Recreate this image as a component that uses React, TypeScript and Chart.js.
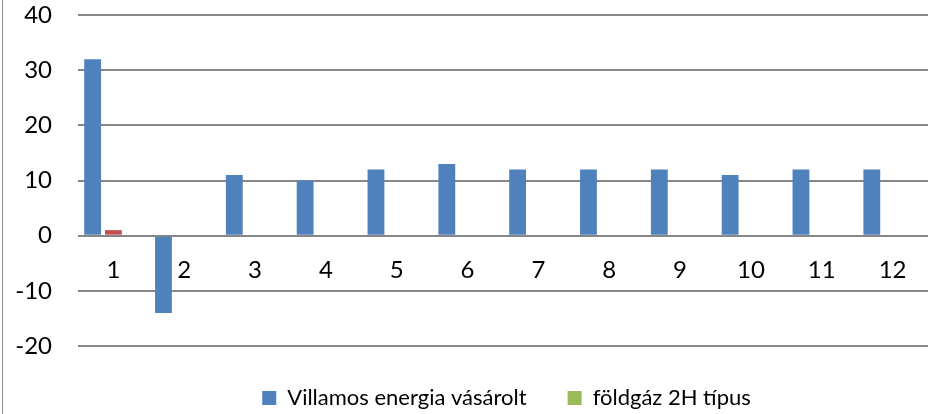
import React, { useEffect, useRef } from "react";
import { Chart, registerables } from "chart.js";

Chart.register(...registerables);

const categories = ["1", "2", "3", "4", "5", "6", "7", "8", "9", "10", "11", "12"];
const villamosEnergia = [32, -14, 11, 10, 12, 13, 12, 12, 12, 11, 12, 12];
const masodikSorozat = [1, 0, 0, 0, 0, 0, 0, 0, 0, 0, 0, 0];
const foldgaz2H = [0, 0, 0, 0, 0, 0, 0, 0, 0, 0, 0, 0];
const seriesNames = ["Villamos energia vásárolt", "", "földgáz 2H típus"];

const FONT = "Lato, 'Open Sans', sans-serif";

const frameLine = {
  id: "frameLine",
  afterDraw(chart: any) {
    const ctx = chart.ctx;
    ctx.save();
    ctx.strokeStyle = "#8c8c8c";
    ctx.lineWidth = 1;
    ctx.beginPath();
    ctx.moveTo(2.5, 0);
    ctx.lineTo(2.5, chart.height);
    ctx.stroke();
    ctx.restore();
  },
};

// Draws the y scale's own tick labels, right-aligned next to the plot area.
const yTickLabels = {
  id: "yTickLabels",
  afterDraw(chart: any) {
    const scale = chart.scales.y;
    const ctx = chart.ctx;
    ctx.save();
    ctx.fillStyle = "#000";
    ctx.font = `24px ${FONT}`;
    ctx.textAlign = "right";
    ctx.textBaseline = "middle";
    for (const t of scale.ticks) {
      ctx.fillText(String(t.value), chart.chartArea.left - 26, scale.getPixelForValue(t.value));
    }
    ctx.restore();
  },
};

export default function App() {
  const ref = useRef<HTMLCanvasElement | null>(null);

  useEffect(() => {
    document.body.style.margin = "0";
    const canvas = ref.current;
    if (!canvas) return;
    const chart = new Chart(canvas, {
      type: "bar",
      data: {
        labels: categories,
        datasets: [
          { label: seriesNames[0], data: villamosEnergia, backgroundColor: "#4F81BD" },
          { label: seriesNames[1], data: masodikSorozat, backgroundColor: "#C0504D" },
          { label: seriesNames[2], data: foldgaz2H, backgroundColor: "#9BBB59" },
        ],
      },
      options: {
        animation: false,
        responsive: false,
        devicePixelRatio: 1,
        datasets: {
          bar: { categoryPercentage: 0.88, barPercentage: 0.81 },
        },
        layout: { padding: { left: 78, right: -7, top: 15, bottom: -5 } },
        plugins: {
          tooltip: { enabled: false },
          legend: {
            position: "bottom",
            labels: {
              filter: (item: any) => item.text !== "",
              boxWidth: 14,
              boxHeight: 14,
              padding: 41,
              color: "#000",
              font: { family: FONT, size: 22 },
            },
          },
        },
        scales: {
          x: {
            position: { y: 0 } as any,
            grid: { display: false },
            border: { display: false },
            ticks: { color: "#000", font: { family: FONT, size: 24 }, padding: 12, maxRotation: 0 },
          },
          y: {
            min: -20,
            max: 40,
            border: { display: false },
            grid: { color: "#878787", lineWidth: 2, drawTicks: false },
            ticks: { stepSize: 10, display: false },
          },
        },
      },
      plugins: [frameLine, yTickLabels],
    });
    return () => chart.destroy();
  }, []);

  return (
    <div style={{ width: 928, height: 414 }}>
      <canvas ref={ref} width={928} height={414} style={{ display: "block" }} />
    </div>
  );
}
